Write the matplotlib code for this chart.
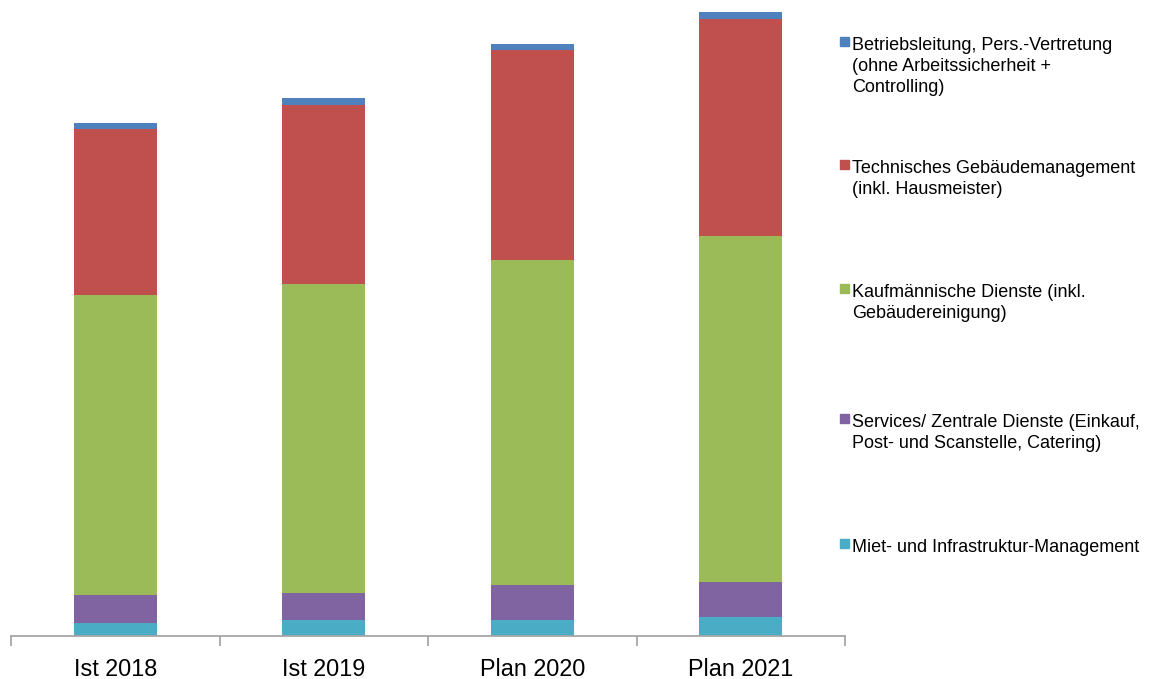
import matplotlib
matplotlib.use("Agg")
import matplotlib.pyplot as plt
from matplotlib.patches import Rectangle
import numpy as np

plt.rcParams['font.family'] = ['Liberation Sans', 'DejaVu Sans']

categories = ["Ist 2018", "Ist 2019", "Plan 2020", "Plan 2021"]

# series from bottom to top
series_names = [
    "Miet- und Infrastruktur-Management",
    "Services/ Zentrale Dienste (Einkauf,\nPost- und Scanstelle, Catering)",
    "Kaufmännische Dienste (inkl.\nGebäudereinigung)",
    "Technisches Gebäudemanagement\n(inkl. Hausmeister)",
    "Betriebsleitung, Pers.-Vertretung\n(ohne Arbeitssicherheit +\nControlling)",
]
miet = [2.6, 3.3, 3.3, 3.9]
services = [5.7, 5.4, 6.9, 6.9]
kaufm = [59.9, 61.7, 65.1, 69.2]
technisch = [33.2, 35.9, 41.9, 43.5]
betrieb = [1.3, 1.3, 1.3, 1.3]
series_values = [miet, services, kaufm, technisch, betrieb]
colors = ["#4BACC6", "#8064A2", "#9BBB59", "#C0504D", "#4F81BD"]

W, H = 1152, 679
fig = plt.figure(figsize=(W / 100, H / 100), dpi=100)
ax_left, ax_right, ax_bottom_px = 11, 845, 636
ax = fig.add_axes([ax_left / W, 1 - ax_bottom_px / H, (ax_right - ax_left) / W, ax_bottom_px / H])

x = np.arange(len(categories))
bottom = np.zeros(len(categories))
for vals, col in zip(series_values, colors):
    ax.bar(x, vals, width=0.4, bottom=bottom, color=col, edgecolor='none', zorder=2)
    bottom += np.array(vals)

ax.set_xlim(-0.5, len(categories) - 0.5)
ax.set_ylim(0, 127.2)
for s in ['top', 'right', 'left']:
    ax.spines[s].set_visible(False)
ax.spines['bottom'].set_color('#a6a6a6')
ax.spines['bottom'].set_linewidth(1.3)
ax.set_yticks([])
ax.set_xticks(x)
ax.set_xticklabels(categories, fontsize=16.8)
ax.tick_params(axis='x', which='major', length=0, pad=15.5, colors='black')
ax.set_xticks(np.arange(len(categories) + 1) - 0.5, minor=True)
ax.tick_params(axis='x', which='minor', length=7.5, width=1.3, color='#a6a6a6', direction='out')

# legend (top entry first)
first_baselines = [50, 173, 297, 427, 552]
line_gap = 21
text_x = 852
for name, col, yb in zip(series_names[::-1], colors[::-1], first_baselines):
    for i, line in enumerate(name.split("\n")):
        fig.text(text_x / W, 1 - (yb + i * line_gap) / H, line, fontsize=13,
                 va='baseline', ha='left', color='black')
    fig.patches.append(Rectangle((839.5 / W, 1 - (yb - 4) / H), 9.5 / W, 9.5 / H,
                                 transform=fig.transFigure, color=col, figure=fig))

fig.savefig("out.png", dpi=100)
